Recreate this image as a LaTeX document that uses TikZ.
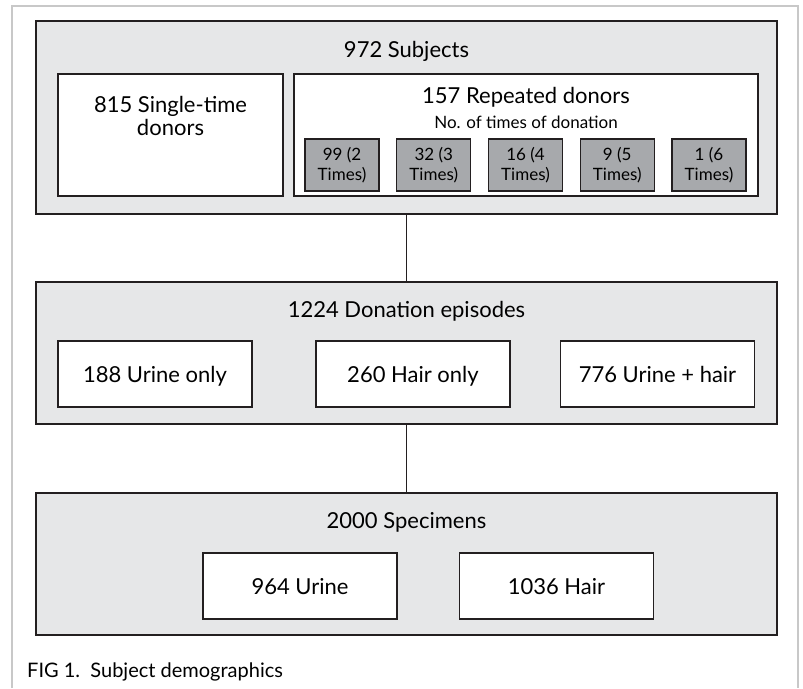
\documentclass[tikz,border=0pt]{standalone}
\usepackage{fontspec}
\setmainfont{Lato}
\definecolor{panelfill}{HTML}{E6E7E8}
\definecolor{chipfill}{HTML}{A7A9AC}
\definecolor{ink}{HTML}{231F20}
\definecolor{framegrey}{HTML}{C8C8C8}
\tikzset{
  panelbox/.style={draw=ink, line width=1.2pt, fill=panelfill, inner sep=0pt, minimum width=741pt},
  whitebox/.style={draw=ink, line width=1.2pt, fill=white, inner sep=0pt},
  subbox/.style={whitebox, minimum width=194pt, minimum height=66pt,
    font=\fontsize{22}{26}\selectfont, text height=16pt, text depth=0pt},
  chipbox/.style={draw=ink, line width=1.2pt, fill=chipfill, inner sep=0pt,
    minimum width=74pt, minimum height=52pt, align=center,
    font=\fontsize{17}{20}\selectfont},
  titletext/.style={anchor=base, inner sep=0pt, font=\fontsize{22}{26}\selectfont},
  smalltext/.style={anchor=base, inner sep=0pt, font=\fontsize{17}{20}\selectfont},
  link/.style={draw=ink, line width=1.2pt},
  framerule/.style={draw=framegrey, line width=1.5pt}
}
\begin{document}
\begin{tikzpicture}[x=1pt, y=-1pt]
\useasboundingbox (0,0) rectangle (803,688);
% outer frame
\draw[framerule] (12,688) -- (12,6) -- (798,6) -- (798,688);

% top panel
\node[panelbox, minimum height=193pt] (subjects) at (406.5,117.5) {};
\node[titletext] (subjectsT) at (406.5,57) {972 Subjects};
\node[whitebox, minimum width=225pt, minimum height=122pt] (single) at (170.5,135) {};
\node[titletext, align=center] (singleT) at (170.5,112) {815 Single-time};
\node[titletext] (singleT2) at (170.5,135) {donors};
\node[whitebox, minimum width=464pt, minimum height=122pt] (repeated) at (526,135) {};
\node[titletext] (repeatedT) at (526,103) {157 Repeated donors};
\node[smalltext] (repeatedS) at (526,128) {No. of times of donation};
\node[chipbox] (c2) at (342,165) {99 (2\\Times)};
\node[chipbox] (c3) at (433.75,165) {32 (3\\Times)};
\node[chipbox] (c4) at (525.5,165) {16 (4\\Times)};
\node[chipbox] (c5) at (617.25,165) {9 (5\\Times)};
\node[chipbox] (c6) at (709,165) {1 (6\\Times)};

% middle panel
\node[panelbox, minimum height=142pt] (episodes) at (406.5,353) {};
\node[titletext] (episodesT) at (406.5,317) {1224 Donation episodes};
\node[subbox] (urineonly) at (155,374) {188 Urine only};
\node[subbox] (haironly) at (413,374) {260 Hair only};
\node[subbox] (both) at (657.5,374) {776 Urine + hair};

% bottom panel
\node[panelbox, minimum height=142pt] (specimens) at (406.5,564) {};
\node[titletext] (specimensT) at (406.5,528) {2000 Specimens};
\node[subbox] (urine) at (300,586) {964 Urine};
\node[subbox] (hair) at (556.5,586) {1036 Hair};

% connectors
\draw[link] (subjects.south) -- (episodes.north);
\draw[link] (episodes.south) -- (specimens.north);

% caption
\node[anchor=base west, inner sep=0pt, font=\fontsize{20}{24}\selectfont] (caption) at (27,677) {FIG 1.\ \ Subject demographics};
\end{tikzpicture}
\end{document}
